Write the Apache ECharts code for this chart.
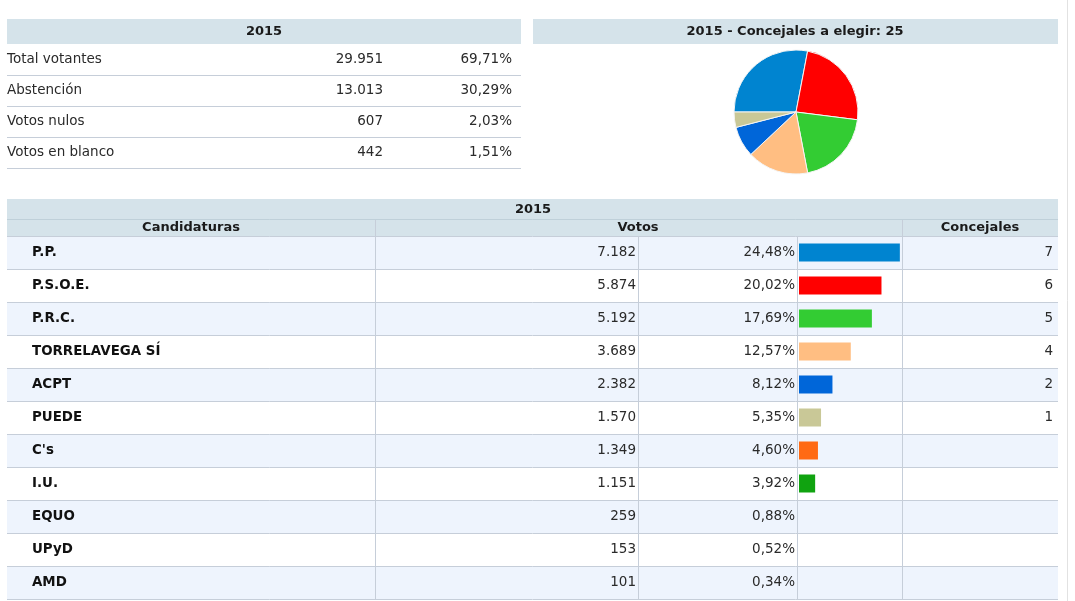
<!DOCTYPE html>
<html>
<head>
<meta charset="utf-8">
<script src="https://cdn.jsdelivr.net/npm/echarts@6/dist/echarts.min.js"></script>
<style>
  html, body { margin: 0; padding: 0; background: #fff; }
  #chart { width: 1075px; height: 601px; }
</style>
</head>
<body>
<div id="chart"></div>
<script>
// ---- Data ----
const statLabels = ['Total votantes', 'Abstención', 'Votos nulos', 'Votos en blanco'];
const statVotes = [29951, 13013, 607, 442];
const statPct = [69.71, 30.29, 2.03, 1.51];

const parties = ['P.P.', 'P.S.O.E.', 'P.R.C.', 'TORRELAVEGA SÍ', 'ACPT', 'PUEDE', "C's", 'I.U.', 'EQUO', 'UPyD', 'AMD'];
const votes = [7182, 5874, 5192, 3689, 2382, 1570, 1349, 1151, 259, 153, 101];
const pcts = [24.48, 20.02, 17.69, 12.57, 8.12, 5.35, 4.60, 3.92, 0.88, 0.52, 0.34];
const seats = [7, 6, 5, 4, 2, 1, null, null, null, null, null];
const partyColors = ['#0084d0', '#ff0000', '#33cc33', '#ffbe82', '#0066d9', '#c9c897', '#ff6a13', '#10a310', null, null, null];

const totalSeats = 25;
const year = '2015';

// ---- helpers ----
const FONT = '"DejaVu Sans", Verdana, sans-serif';
const fmtInt = v => String(v).replace(/\B(?=(\d{3})+(?!\d))/g, '.');
const fmtPct = v => v.toFixed(2).replace('.', ',') + '%';
const HEADER_BG = '#d5e3ea';
const LINE = '#c6ced9';
const STRIPE = '#eef4fd';

const chart = echarts.init(document.getElementById('chart'), null, { renderer: 'canvas' });

const textStyleBase = { fontFamily: FONT, fontSize: 13.5, color: '#2a2a2a' };

function catAxis(gridIndex, data, opts) {
  return Object.assign({
    type: 'category', gridIndex, data, inverse: true,
    axisLine: { show: false }, axisTick: { show: false },
    splitLine: { show: false }, splitArea: { show: false }
  }, opts);
}

const option = {
  animation: false,
  grid: [
    { left: 7, top: 44, width: 514, height: 124 },      // stats table
    { left: 7, top: 236, width: 1051, height: 363 },    // main table
    { left: 799, top: 236, width: 103, height: 363 }    // bars
  ],
  xAxis: [
    { type: 'value', gridIndex: 0, show: false, min: 0, max: 1 },
    { type: 'value', gridIndex: 1, show: false, min: 0, max: 1 },
    { type: 'value', gridIndex: 2, show: false, min: 0, max: 25 }
  ],
  yAxis: [
    // stats table
    catAxis(0, statLabels, {
      position: 'left',
      axisLabel: Object.assign({ inside: true, margin: 0, align: 'left' }, textStyleBase),
      splitLine: { show: true, showMinLine: false, lineStyle: { color: LINE, width: 1 } }
    }),
    catAxis(0, statVotes, {
      position: 'right', offset: -138,
      axisLabel: Object.assign({ inside: true, margin: 0, formatter: v => fmtInt(v) }, textStyleBase)
    }),
    catAxis(0, statPct, {
      position: 'right', offset: -9,
      axisLabel: Object.assign({ inside: true, margin: 0, formatter: v => fmtPct(Number(v)) }, textStyleBase)
    }),
    // main table
    catAxis(1, parties, {
      position: 'left',
      axisLabel: Object.assign({}, textStyleBase, { inside: true, margin: 25, fontWeight: 'bold', fontSize: 13.4, color: '#111' }),
      splitLine: { show: true, lineStyle: { color: LINE, width: 1 } },
      splitArea: { show: true, areaStyle: { color: [STRIPE, '#ffffff'] } }
    }),
    catAxis(1, votes, {
      position: 'right', offset: -420,
      axisLabel: Object.assign({ inside: true, margin: 2, formatter: v => fmtInt(v) }, textStyleBase)
    }),
    catAxis(1, pcts, {
      position: 'right', offset: -261,
      axisLabel: Object.assign({ inside: true, margin: 2, formatter: v => fmtPct(Number(v)) }, textStyleBase)
    }),
    catAxis(1, seats.map(s => s == null ? '' : String(s)), {
      position: 'right', offset: 0,
      axisLabel: Object.assign({ inside: true, margin: 5 }, textStyleBase)
    }),
    // bars
    catAxis(2, parties, { show: false })
  ],
  graphic: [
    // top-left header
    { type: 'rect', shape: { x: 7, y: 19, width: 514, height: 25 }, style: { fill: HEADER_BG }, z: 10 },
    { type: 'text', x: 264, y: 31.5, style: { text: year, fontFamily: FONT, fontSize: 13, fontWeight: 'bold', fill: '#1a1a1a', align: 'center', verticalAlign: 'middle' }, z: 11 },
    // top-right header
    { type: 'rect', shape: { x: 533, y: 19, width: 525, height: 25 }, style: { fill: HEADER_BG }, z: 10 },
    { type: 'text', x: 795, y: 31.5, style: { text: year + ' - Concejales a elegir: ' + totalSeats, fontFamily: FONT, fontSize: 13, fontWeight: 'bold', fill: '#1a1a1a', align: 'center', verticalAlign: 'middle' }, z: 11 },
    // main table header rows
    { type: 'rect', shape: { x: 7, y: 199, width: 1051, height: 37 }, style: { fill: HEADER_BG }, z: 10 },
    { type: 'line', shape: { x1: 7, y1: 219.5, x2: 1058, y2: 219.5 }, style: { stroke: '#bfd0d9', lineWidth: 1 }, z: 11 },
    { type: 'text', x: 533, y: 209.5, style: { text: year, fontFamily: FONT, fontSize: 13, fontWeight: 'bold', fill: '#1a1a1a', align: 'center', verticalAlign: 'middle' }, z: 11 },
    { type: 'text', x: 191, y: 228, style: { text: 'Candidaturas', fontFamily: FONT, fontSize: 13, fontWeight: 'bold', fill: '#1a1a1a', align: 'center', verticalAlign: 'middle' }, z: 11 },
    { type: 'text', x: 638, y: 228, style: { text: 'Votos', fontFamily: FONT, fontSize: 13, fontWeight: 'bold', fill: '#1a1a1a', align: 'center', verticalAlign: 'middle' }, z: 11 },
    { type: 'text', x: 980, y: 228, style: { text: 'Concejales', fontFamily: FONT, fontSize: 13, fontWeight: 'bold', fill: '#1a1a1a', align: 'center', verticalAlign: 'middle' }, z: 11 },
    // column separators
    { type: 'line', shape: { x1: 375.5, y1: 220, x2: 375.5, y2: 599 }, style: { stroke: LINE, lineWidth: 1 }, z: 11 },
    { type: 'line', shape: { x1: 638.5, y1: 236, x2: 638.5, y2: 599 }, style: { stroke: LINE, lineWidth: 1 }, z: 11 },
    { type: 'line', shape: { x1: 797.5, y1: 236, x2: 797.5, y2: 599 }, style: { stroke: LINE, lineWidth: 1 }, z: 11 },
    { type: 'line', shape: { x1: 902.5, y1: 220, x2: 902.5, y2: 599 }, style: { stroke: LINE, lineWidth: 1 }, z: 11 },
    // faint page edge
    { type: 'line', shape: { x1: 1067.5, y1: 0, x2: 1067.5, y2: 601 }, style: { stroke: '#e2e2e2', lineWidth: 1 }, z: 1 }
  ],
  series: [
    {
      type: 'bar', xAxisIndex: 2, yAxisIndex: 7, barWidth: 18,
      data: pcts.map((p, i) => partyColors[i] ? { value: p, itemStyle: { color: partyColors[i] } } : '-'),
      silent: true
    },
    {
      type: 'pie', center: [796, 112], radius: 62, startAngle: 180, clockwise: true,
      label: { show: false }, labelLine: { show: false }, silent: true,
      itemStyle: { borderColor: '#f4f4f4', borderWidth: 1 },
      data: parties.map((p, i) => ({ name: p, value: seats[i], itemStyle: { color: partyColors[i] } }))
                   .filter(d => d.value)
    }
  ]
};

chart.setOption(option);
</script>
</body>
</html>
